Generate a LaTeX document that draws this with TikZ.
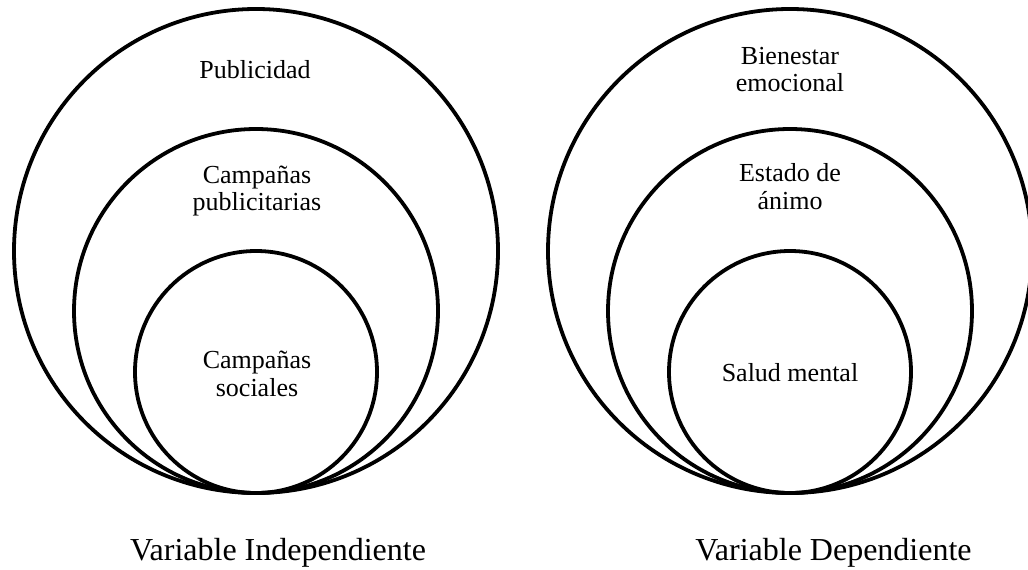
\documentclass[tikz,border=0pt]{standalone}
\usepackage{fontspec}
\setmainfont{Liberation Serif}
\begin{document}
\begin{tikzpicture}[x=1pt,y=-1pt,
  ring/.style={draw=black, line width=3.8pt, circle, inner sep=0pt, outer sep=0pt, fill=none},
  lbl/.style={align=center, inner sep=0pt, anchor=base, font=\fontsize{26}{27.5}\selectfont},
  caption/.style={inner sep=0pt, anchor=base, font=\fontsize{32}{36}\selectfont}]
\useasboundingbox (0,0) rectangle (1028,570);
% independent variable: nested circles, all tangent at the bottom
% (the base anchor of a two-line label sits on its last line)
\node[ring, minimum size=484pt] (pub)  at (256,251) {};
\node[ring, minimum size=364pt] (camp) at (256,311) {};
\node[ring, minimum size=242pt] (soc)  at (256,372) {};
\node[lbl] (tpub)  at (255,78)  {Publicidad};
\node[lbl] (tcamp) at (257,210.5) {Campañas\\publicitarias};
\node[lbl] (tsoc)  at (257,396) {Campañas\\sociales};
% dependent variable
\node[ring, minimum size=484pt] (bien) at (790,251) {};
\node[ring, minimum size=364pt] (est)  at (790,311) {};
\node[ring, minimum size=242pt] (sal)  at (790,372) {};
\node[lbl] (tbien) at (790,91.5)  {Bienestar\\emocional};
\node[lbl] (test)  at (790,209) {Estado de\\ánimo};
\node[lbl] (tsal)  at (790,381.7) {Salud mental};
% captions
\node[caption] (vi) at (278,560) {Variable Independiente};
\node[caption] (vd) at (833.5,560) {Variable Dependiente};
\end{tikzpicture}
\end{document}
